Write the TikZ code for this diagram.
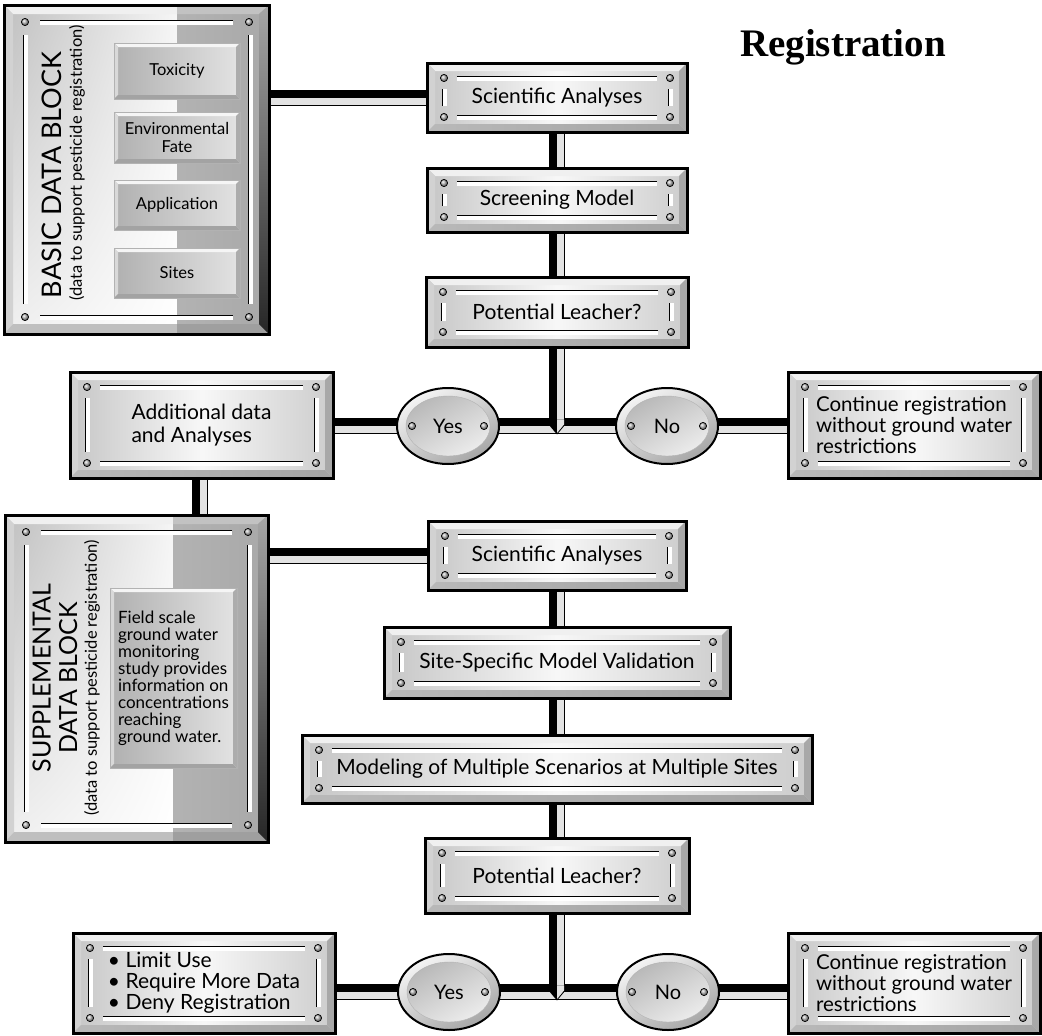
\documentclass[tikz,border=0pt]{standalone}
\usepackage{fontspec}
\setmainfont{Lato}
\newfontfamily\titlefont{Liberation Serif}
\usetikzlibrary{calc,backgrounds,shapes.geometric,shadings}

\tikzset{
  pipeb/.style={line width=16pt, draw=black},
  pipeg/.style={line width=7pt, draw=gray!22},
  ptext/.style={font=\fontsize{21}{24}\selectfont, align=center, inner sep=0pt},
  ltext/.style={font=\fontsize{20.5}{21}\selectfont, align=left, inner sep=0pt},
  stext/.style={font=\fontsize{16.5}{18}\selectfont, align=center, inner sep=0pt},
  otext/.style={font=\fontsize{20}{23}\selectfont, ellipse, inner sep=0pt, minimum width=102pt, minimum height=76pt},
}

\newcommand\rivet[2]{\shadedraw[ball color=gray!55, line width=0.7pt] ({#1},{#2}) circle (3.6pt);}
\newcommand\hbarr[3]{\fill[white] ({#1},{#3-1}) rectangle ({#2},{#3+2.5}); \draw[line width=1.3pt] ({#1},{#3-1.5}) -- ({#2},{#3-1.5});}
\newcommand\vbarr[3]{\fill[white] ({#1-1},{#2}) rectangle ({#1+2.5},{#3}); \draw[line width=1.3pt] ({#1-1.5},{#2}) -- ({#1-1.5},{#3});}

% name, x1, y1, x2, y2, text, text style
\newcommand\plate[7]{%
  \shade[left color=gray!45, right color=gray!40, middle color=gray!6] (#2,#3) rectangle (#4,#5);
  \fill[gray!12] (#2,#3) -- (#4,#3) -- ({#4-8},{#3+8}) -- ({#2+8},{#3+8}) -- cycle;
  \fill[gray!35] (#2,#3) -- ({#2+8},{#3+8}) -- ({#2+8},{#5-8}) -- (#2,#5) -- cycle;
  \shade[left color=gray!55, right color=gray!72] (#2,#5) -- ({#2+8},{#5-8}) -- ({#4-8},{#5-8}) -- (#4,#5) -- cycle;
  \fill[gray!68] (#4,#3) -- ({#4-8},{#3+8}) -- ({#4-8},{#5-8}) -- (#4,#5) -- cycle;
  \draw[line width=3pt] (#2,#3) rectangle (#4,#5);
  \hbarr{#2+30}{#4-30}{#3+15}\hbarr{#2+30}{#4-30}{#5-15}
  \vbarr{#2+17}{#3+26}{#5-26}\vbarr{#4-17}{#3+26}{#5-26}
  \rivet{#2+17}{#3+15}\rivet{#4-17}{#3+15}\rivet{#2+17}{#5-15}\rivet{#4-17}{#5-15}
  \node[#7, minimum width={#4-#2}, minimum height={#5-#3}] (#1) at ({(#2+#4)/2},{(#3+#5)/2}) {#6};
}

% name, x1, y1, x2, y2, text, text style
\newcommand\smallplate[7]{%
  \shade[left color=gray!62, right color=gray!22] (#2,#3) rectangle (#4,#5);
  \fill[gray!8] (#2,#3) -- (#4,#3) -- ({#4-4},{#3+4}) -- ({#2+4},{#3+4}) -- cycle;
  \fill[gray!30] (#2,#3) -- ({#2+4},{#3+4}) -- ({#2+4},{#5-4}) -- (#2,#5) -- cycle;
  \fill[gray!72] (#2,#5) -- ({#2+4},{#5-4}) -- ({#4-4},{#5-4}) -- (#4,#5) -- cycle;
  \fill[gray!65] (#4,#3) -- ({#4-4},{#3+4}) -- ({#4-4},{#5-4}) -- (#4,#5) -- cycle;
  \draw[gray!60, line width=0.8pt] (#2,#3) rectangle (#4,#5);
  \node[#7, minimum width={#4-#2}, minimum height={#5-#3}] (#1) at ({(#2+#4)/2},{(#3+#5)/2}) {#6};
}

% name, x1, y1, x2, y2, split
\newcommand\datablock[6]{%
  \shade[upper left=gray!50, upper right=gray!8, lower left=gray!12, lower right=white] (#2,#3) rectangle (#6,#5);
  \shade[left color=gray!60, right color=gray!68] (#6,#3) rectangle (#4,#5);
  \fill[gray!12] (#2,#3) -- (#6,#3) -- (#6,{#3+9}) -- ({#2+9},{#3+9}) -- cycle;
  \fill[gray!48] (#6,#3) -- (#4,#3) -- ({#4-10},{#3+9}) -- (#6,{#3+9}) -- cycle;
  \fill[gray!35] (#2,#3) -- ({#2+9},{#3+9}) -- ({#2+9},{#5-10}) -- (#2,#5) -- cycle;
  \fill[gray!50] (#2,#5) -- ({#2+9},{#5-10}) -- (#6,{#5-10}) -- (#6,#5) -- cycle;
  \fill[gray!75] (#6,#5) -- (#6,{#5-10}) -- ({#4-10},{#5-10}) -- (#4,#5) -- cycle;
  \shade[top color=gray!70, bottom color=black!85] (#4,#3) -- ({#4-10},{#3+9}) -- ({#4-10},{#5-10}) -- (#4,#5) -- cycle;
  \draw[line width=3pt] (#2,#3) rectangle (#4,#5);
  \hbarr{#2+36}{#4-36}{#3+17}\hbarr{#2+36}{#4-36}{#5-17}
  \vbarr{#2+21}{#3+30}{#5-30}\vbarr{#4-19}{#3+30}{#5-30}
  \rivet{#2+21}{#3+17}\rivet{#4-20}{#3+17}\rivet{#2+21}{#5-17}\rivet{#4-20}{#5-17}
  \node[inner sep=0pt, minimum width={#4-#2}, minimum height={#5-#3}] (#1) at ({(#2+#4)/2},{(#3+#5)/2}) {};
}

% name, cx, cy, text
\newcommand\ovalnode[4]{%
  \shadedraw[line width=2pt, top color=gray!8, bottom color=gray!70, shading angle=30] (#2,#3) ellipse (51pt and 38pt);
  \shadedraw[line width=0.4pt, draw=gray!60, top color=gray!15, bottom color=gray!55, shading angle=-150] (#2,#3) ellipse (42pt and 30pt);
  \rivet{#2-36}{#3}\rivet{#2+36}{#3}
  \node[otext] (#1) at (#2,#3) {#4};
}

\newcommand\hpipe[2]{\draw[pipeb] #1 -- #2; \draw[pipeg] ($#1+(0,3.5)$) -- ($#2+(0,3.5)$);}
\newcommand\vpipe[2]{\draw[pipeb] #1 -- #2; \draw[pipeg] ($#1+(3.5,0)$) -- ($#2+(3.5,0)$);}
\newcommand\junction[2]{%
  \draw[pipeb] (#1.south) -- ($(#2)+(0,-6)$);
  \draw[pipeg] ($(#1.south)+(3.5,0)$) -- ($(#2)+(3.5,-6)$);
  \fill[black] ($(#2)+(-8,-6.5)$) -- ($(#2)+(8,-6.5)$) -- ($(#2)+(8,-1)$) -- ($(#2)+(0,8.5)$) -- ($(#2)+(-8,-1)$) -- cycle;
  \fill[gray!22] ($(#2)+(0,-6.5)$) -- ($(#2)+(7,-6.5)$) -- ($(#2)+(7,-1.5)$) -- ($(#2)+(0.5,6.5)$) -- ($(#2)+(0,6.5)$) -- cycle;
}

\begin{document}
\begin{tikzpicture}[x=1pt, y=-1pt]
\begin{pgfonlayer}{background}
\fill[white] (0,0) rectangle (1042,1036);
\end{pgfonlayer}
\useasboundingbox (0,0) rectangle (1042,1036);

\node[font=\titlefont\bfseries\fontsize{39}{41}\selectfont, inner sep=0pt] (title) at (843,47) {Registration};

% basic data block
\datablock{bb}{4}{5}{269}{334}{177}
\node[rotate=90, font=\fontsize{27}{29}\selectfont, inner sep=0pt] (bbt1) at (52,175) {BASIC DATA BLOCK};
\node[rotate=90, font=\fontsize{16.5}{18}\selectfont, inner sep=0pt] (bbt2) at (77,163) {(data to support pesticide registration)};
\smallplate{tox}{114}{43}{240}{99}{Toxicity}{stext}
\smallplate{env}{114}{112}{240}{163}{Environmental\\Fate}{stext}
\smallplate{app}{114}{180}{240}{230}{Application}{stext}
\smallplate{sites}{114}{248}{240}{298}{Sites}{stext}

% supplemental data block
\datablock{sb}{5}{515}{268}{842}{173}
\node[rotate=90, align=center, font=\fontsize{25}{26.5}\selectfont, inner sep=0pt] (sbt1) at (55,678) {SUPPLEMENTAL\\DATA BLOCK};
\node[rotate=90, font=\fontsize{16.5}{18}\selectfont, inner sep=0pt] (sbt2) at (92,678) {(data to support pesticide registration)};
\smallplate{fsg}{110}{588}{237}{768}{Field scale\\ground water\\monitoring\\study provides\\information on\\concentrations\\reaching\\ground water.}{ltext, font=\fontsize{17}{17}\selectfont}

% main column
\plate{sa1}{427}{63}{687}{132}{Scientific Analyses}{ptext}
\plate{sm}{427}{168}{687}{232}{Screening Model}{ptext}
\plate{pl1}{426}{277}{688}{347}{Potential Leacher?}{ptext}
\ovalnode{y1}{448}{426}{Yes}
\ovalnode{n1}{667}{426}{No}
\plate{ad}{70}{372}{333}{478}{Additional data\\and Analyses}{ltext, font=\fontsize{21}{23}\selectfont}
\plate{cr1}{788}{372}{1040}{478}{Continue registration\\without ground water\\restrictions}{ltext}
\coordinate (j1) at (557,426);

\plate{sa2}{428}{521}{686}{590}{Scientific Analyses}{ptext}
\plate{ssv}{384}{627}{730}{698}{Site-Specific Model Validation}{ptext}
\plate{mm}{302}{735}{812}{803}{Modeling of Multiple Scenarios at Multiple Sites}{ptext}
\plate{pl2}{425}{838}{689}{913}{Potential Leacher?}{ptext}
\ovalnode{y2}{449}{992}{Yes}
\ovalnode{n2}{668}{992}{No}
\plate{lu}{73}{933}{335}{1033}{\textbullet\ Limit Use\\\textbullet\ Require More Data\\\textbullet\ Deny Registration}{ltext, font=\fontsize{21}{21}\selectfont}
\plate{cr2}{788}{933}{1040}{1033}{Continue registration\\without ground water\\restrictions}{ltext}
\coordinate (j2) at (557,992);

\begin{pgfonlayer}{background}
  \hpipe{(sa1.west -| bb.east)}{(sa1.west)}
  \vpipe{(sa1.south)}{(sm.north)}
  \vpipe{(sm.south)}{(pl1.north)}
  \hpipe{(y1.west -| ad.east)}{(y1.west)}
  \hpipe{(y1.east)}{(n1.west)}
  \hpipe{(n1.east)}{(n1.east -| cr1.west)}
  \junction{pl1}{j1}
  \vpipe{(ad.south -| 200,0)}{(sb.north -| 200,0)}
  \hpipe{(sa2.west -| sb.east)}{(sa2.west)}
  \vpipe{(sa2.south)}{(ssv.north)}
  \vpipe{(ssv.south)}{(mm.north)}
  \vpipe{(mm.south)}{(pl2.north)}
  \hpipe{(y2.west -| lu.east)}{(y2.west)}
  \hpipe{(y2.east)}{(n2.west)}
  \hpipe{(n2.east)}{(n2.east -| cr2.west)}
  \junction{pl2}{j2}
\end{pgfonlayer}
\end{tikzpicture}
\end{document}
